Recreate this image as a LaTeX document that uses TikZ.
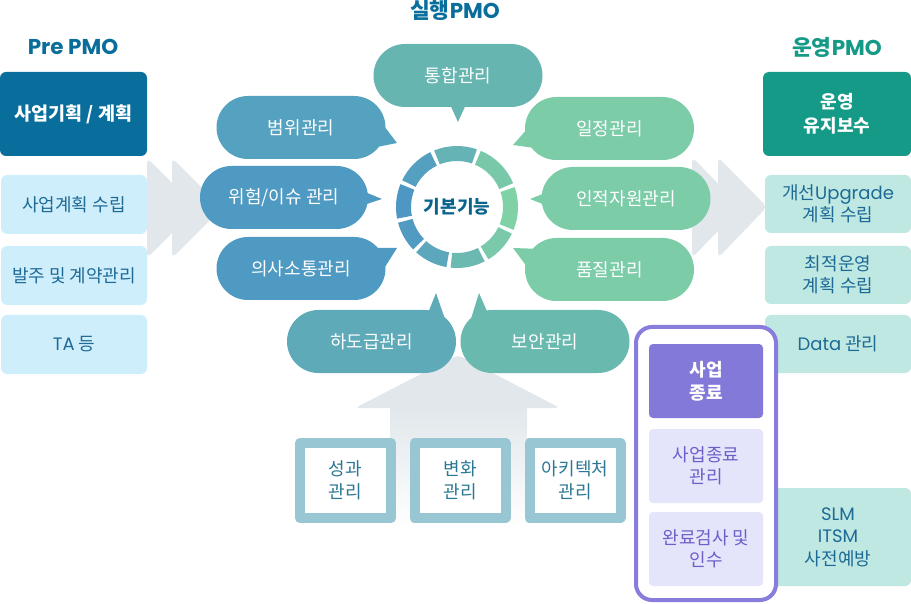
\documentclass[tikz,border=0pt]{standalone}
\usepackage{fontspec}
\setmainfont{Noto Sans CJK KR}
\newfontfamily\lat{Poppins}
\usetikzlibrary{calc}
\definecolor{preblue}{HTML}{0A6E9C}
\definecolor{prelight}{HTML}{CFEEFC}
\definecolor{pretext}{HTML}{1E6A96}
\definecolor{opgreen}{HTML}{149A86}
\definecolor{oplight}{HTML}{BEE8E1}
\definecolor{endframe}{HTML}{887CDC}
\definecolor{enddark}{HTML}{8279D9}
\definecolor{endlight}{HTML}{E4E4FB}
\definecolor{endtext}{HTML}{6E5FC8}
\definecolor{chev}{HTML}{E1E7EB}
\definecolor{boxrim}{HTML}{98C6D3}
\definecolor{boxtext}{HTML}{2A7894}
\definecolor{ringblue}{HTML}{4E97C4}
\definecolor{ringgreen}{HTML}{80D1A6}
\definecolor{bubteal}{HTML}{67B5B0}
\definecolor{bubblue}{HTML}{55A2C0}
\definecolor{bubdeep}{HTML}{4F9AC3}
\definecolor{bubgreen}{HTML}{7CCCA8}
\definecolor{bubsea}{HTML}{5EAAB8}
\definecolor{bubmint}{HTML}{6AB9AF}
\begin{document}
\begin{tikzpicture}[x=1pt, y=-1pt, font=\fontsize{18}{22.5}\selectfont, line join=round,
	title/.style={font=\fontsize{21.5}{24}\selectfont\bfseries},
	card/.style={rectangle, rounded corners=6pt, align=center, inner sep=0pt},
	bubble/.style={rectangle, rounded corners=31.5pt, minimum width=169pt, minimum height=63pt, text=white, inner sep=0pt},
	rim/.style={draw=boxrim, line width=10pt, fill=white, minimum width=91pt, minimum height=75pt, text=boxtext, align=center, inner sep=0pt}]
	\useasboundingbox (0,0) rectangle (911,604);
	% arrows in the back
	\foreach \s in {0,25}\fill[chev, rounded corners=5pt](147+\s,158)--(197+\s,208)--(147+\s,258)--cycle;
	\foreach \s in {0,26}\fill[chev, rounded corners=5pt](692+\s,157)--(741+\s,207)--(692+\s,258)--cycle;
	\fill[chev, rounded corners=5pt](355,408)--(458,355)--(560,408)--cycle;
	\shade[top color=chev, bottom color=white](390,406)rectangle(527,530);
	% Pre PMO
	\node[title, text=preblue] (preT) at (73,47) {\lat Pre PMO};
	\node[card, fill=preblue, text=white, font=\fontsize{18.5}{23}\selectfont\bfseries, minimum width=147pt, minimum height=84pt] (pre0) at (73.5,114) {사업기획 / 계획};
	\node[card, fill=prelight, text=pretext, minimum width=146pt, minimum height=59pt] (pre1) at (74,204.5) {사업계획 수립};
	\node[card, fill=prelight, text=pretext, minimum width=146pt, minimum height=59pt] (pre2) at (74,275.5) {발주 및 계약관리};
	\node[card, fill=prelight, text=pretext, minimum width=146pt, minimum height=59pt] (pre3) at (74,344.5) {{\lat TA} 등};
	% 실행PMO
	\node[title, text=preblue] (runT) at (455,10) {실행{\lat PMO}};
	\coordinate (ring) at (457,207);
	\foreach \a/\b in {-156/-114,-114/-69,-69/-21,-21/24,24/61,61/98,98/134,134/167,167/204}{
		\pgfmathsetmacro\m{50+50*cos((\a+\b)/2)}
		\fill[ringgreen!\m!ringblue]($(ring)+(\a+2:61)$)arc[start angle=\a+2, end angle=\b-2, radius=61]--($(ring)+(\b-2:46)$)arc[start angle=\b-2, end angle=\a+2, radius=46]--cycle;
	}
	\node[font=\fontsize{18}{22}\selectfont\bfseries, text=preblue!90!black] (core) at (ring) {기본기능};
	\node[bubble, fill=bubteal] (bT) at (458,75.5) {통합관리};
	\node[bubble, fill=bubblue] (bL1) at (301,127.5) {범위관리};
	\node[bubble, fill=bubdeep, minimum width=168pt] (bL2) at (284,197.5) {위험/이슈 관리};
	\node[bubble, fill=bubdeep] (bL3) at (301,268.5) {의사소통관리};
	\node[bubble, fill=bubgreen] (bR1) at (609.5,128.5) {일정관리};
	\node[bubble, fill=bubgreen] (bR2) at (626,198.5) {인적자원관리};
	\node[bubble, fill=bubgreen] (bR3) at (609.5,269.5) {품질관리};
	\node[bubble, fill=bubsea] (bB1) at (371.5,341.5) {하도급관리};
	\node[bubble, fill=bubmint] (bB2) at (545,341.5) {보안관리};
	% pointers
	\coordinate (tT) at (458,122);
	\coordinate (tL1) at (397,143);
	\coordinate (tL2) at (382,199);
	\coordinate (tL3) at (397,248);
	\coordinate (tR1) at (513,145);
	\coordinate (tR2) at (530,199);
	\coordinate (tR3) at (513,248);
	\coordinate (tB1) at (436,293);
	\coordinate (tB2) at (479,293);
	\fill[bubteal]($(bT)+(-10,24.5)$)--(tT)--($(bT)+(10,24.5)$)--cycle;
	\fill[bubblue]($(bL1)+(77,-9.5)$)--(tL1)--($(bL1)+(71,20.5)$)--cycle;
	\fill[bubdeep]($(bL2)+(71,-9.5)$)--(tL2)--($(bL2)+(71,10.5)$)--cycle;
	\fill[bubdeep]($(bL3)+(71,-20.5)$)--(tL3)--($(bL3)+(77,9.5)$)--cycle;
	\fill[bubgreen]($(bR1)+(-73.5,-9.5)$)--(tR1)--($(bR1)+(-67.5,20.5)$)--cycle;
	\fill[bubgreen]($(bR2)+(-71,-9.5)$)--(tR2)--($(bR2)+(-71,10.5)$)--cycle;
	\fill[bubgreen]($(bR3)+(-67.5,-20.5)$)--(tR3)--($(bR3)+(-73.5,9.5)$)--cycle;
	\fill[bubsea]($(bB1)+(54.5,-23.5)$)--(tB1)--($(bB1)+(74.5,-19.5)$)--cycle;
	\fill[bubmint]($(bB2)+(-75,-19.5)$)--(tB2)--($(bB2)+(-55,-23.5)$)--cycle;
	% bottom boxes
	\node[rim] (perf) at (345.5,480.5) {성과\\관리};
	\node[rim] (chg) at (460,480.5) {변화\\관리};
	\node[rim] (arch) at (575,480.5) {아키텍처\\관리};
	% 운영PMO
	\node[title, text=opgreen] (opT) at (837,47) {운영{\lat PMO}};
	\node[card, fill=opgreen, text=white, font=\fontsize{18}{24}\selectfont\bfseries, minimum width=148pt, minimum height=84pt] (op0) at (837,114) {운영\\유지보수};
	\node[card, fill=oplight, text=pretext, minimum width=146pt, minimum height=58pt] (op1) at (838,204) {개선{\lat Upgrade}\\계획 수립};
	\node[card, fill=oplight, text=pretext, minimum width=146pt, minimum height=58pt] (op2) at (838,275) {최적운영\\계획 수립};
	\node[card, fill=oplight, text=pretext, minimum width=146pt, minimum height=58pt] (op3) at (838,344) {{\lat Data} 관리};
	\node[card, fill=oplight, text=pretext, minimum width=146pt, minimum height=98pt] (op4) at (838,537) {{\lat SLM}\\{\lat ITSM}\\사전예방};
	% 사업종료
	\draw[endframe, line width=4pt, fill=white, rounded corners=16pt](636,327)rectangle(776,600);
	\node[card, rounded corners=4pt, fill=enddark, text=white, font=\fontsize{18}{23}\selectfont\bfseries, minimum width=114pt, minimum height=74pt] (end0) at (706,381) {사업\\종료};
	\node[card, rounded corners=4pt, fill=endlight, text=endtext, minimum width=114pt, minimum height=74pt] (end1) at (706,466) {사업종료\\관리};
	\node[card, rounded corners=4pt, fill=endlight, text=endtext, minimum width=114pt, minimum height=74pt] (end2) at (706,549) {완료검사 및\\인수};
\end{tikzpicture}
\end{document}
